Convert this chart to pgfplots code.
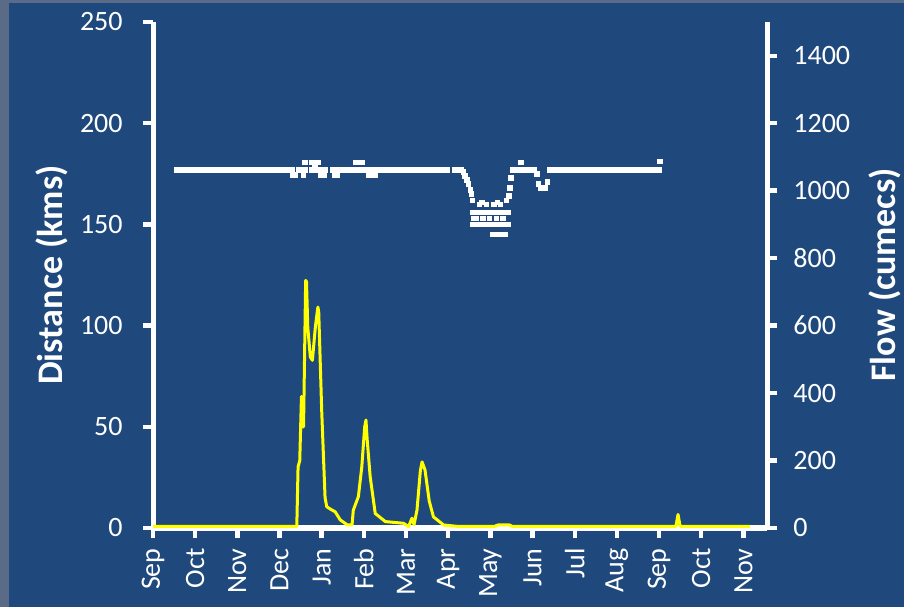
\documentclass[border=0pt]{standalone}
\usepackage{pgfplots}
\pgfplotsset{compat=1.18}
\usepackage{fontspec}
\setmainfont{Carlito}
\definecolor{bg}{HTML}{1F497D}
\definecolor{framec}{HTML}{5A6B88}
\definecolor{flowc}{HTML}{FFFF00}

\pgfplotsset{
  common/.style={
    at={(76.5bp,39.5bp)}, anchor=south west, scale only axis,
    width=307bp, height=253bp,
    xmin=0, xmax=14.56,
    axis line style={white, line width=2.5bp},
    every tick/.style={white, line width=2.2bp},
    major tick length=5bp, tick align=outside,
    tick label style={font=\fontsize{14bp}{16bp}\selectfont, text=white, inner sep=0pt},
    /pgf/number format/assume math mode=true,
    /pgf/number format/1000 sep={},
    every axis y label/.style={rotate=90, anchor=center, text=white,
      font=\fontsize{18bp}{21bp}\selectfont\bfseries},
  }
}

\begin{document}
\begin{tikzpicture}
\fill[framec] (0,0) rectangle (452bp,303.5bp);
\fill[bg] (4.5bp,0) rectangle (452bp,302bp);

\begin{axis}[common,
  ymin=0, ymax=250,
  axis x line*=bottom, axis y line*=left,
  ytick={0,50,...,250},
  yticklabel style={anchor=east}, yticklabel shift=10bp,
  xtick={0,...,14},
  xticklabels={Sep,Oct,Nov,Dec,Jan,Feb,Mar,Apr,May,Jun,Jul,Aug,Sep,Oct,Nov},
  xticklabel style={rotate=90, anchor=east}, xticklabel shift=5bp,
  ylabel={Distance (kms)},
  every axis y label/.append style={at={(axis description cs:-0.1645,0.5)}},
]
\addplot[white, only marks, mark=square*, mark size=1.1bp] table {
x y
0.57 177
0.65 177
0.73 177
0.81 177
0.89 177
0.97 177
1.05 177
1.13 177
1.21 177
1.29 177
1.37 177
1.45 177
1.53 177
1.61 177
1.69 177
1.77 177
1.85 177
1.93 177
2.01 177
2.09 177
2.17 177
2.25 177
2.33 177
2.41 177
2.49 177
2.57 177
2.65 177
2.73 177
2.81 177
2.89 177
2.97 177
3.09 177
3.21 177
3.29 177
3.45 177
3.53 177
3.61 177
3.77 177
3.85 177
3.93 177
4.01 177
4.09 177
4.25 177
4.33 177
4.41 177
3.30 174.4
3.38 174.4
3.56 174.4
3.98 174.4
4.06 174.4
4.30 174.4
4.37 174.4
3.60 180.7
3.76 180.7
3.84 180.7
3.92 180.7
3.84 178.8
4.52 177
4.60 177
4.68 177
4.76 177
4.84 177
4.92 177
5.00 177
5.08 177
5.16 177
5.24 177
5.32 177
5.40 177
4.80 180.6
4.88 180.6
4.96 180.6
5.12 174.4
5.20 174.4
5.28 174.4
5.55 177
5.67 177
5.78 177
5.88 177
5.96 177
6.04 177
6.12 177
6.20 177
6.28 177
6.36 177
6.44 177
6.52 177
6.60 177
6.68 177
6.76 177
6.80 177
6.90 177
6.97 177
7.14 177
7.22 177
7.30 177
7.36 176
7.40 174
7.44 172
7.48 170
7.52 167
7.55 165
7.58 162
7.58 156
7.58 150
7.60 153
7.64 156
7.72 156
7.80 156
7.88 156
7.96 156
8.04 156
8.12 156
8.20 156
8.28 156
8.36 156
8.42 156
7.62 150
7.70 150
7.78 150
7.86 150
7.94 150
8.02 150
8.10 150
8.18 150
8.26 150
8.34 150
8.42 150
7.66 153
7.82 153
7.98 153
8.14 153
8.30 153
7.74 160
7.80 161
7.90 160
8.08 160
8.16 161
8.24 160
8.38 162
8.44 164
8.06 145
8.14 145
8.26 145
8.34 145
8.46 168
8.49 173
8.52 177
8.56 177
8.64 177
8.72 177
8.80 177
8.88 177
8.96 177
9.04 177
9.10 175
8.72 180.5
9.14 170
9.18 168
9.24 168
9.30 168
9.35 171
9.40 177
9.45 177
9.53 177
9.61 177
9.69 177
9.77 177
9.85 177
9.93 177
10.01 177
10.09 177
10.17 177
10.25 177
10.33 177
10.41 177
10.49 177
10.57 177
10.65 177
10.73 177
10.81 177
10.89 177
10.97 177
11.05 177
11.13 177
11.21 177
11.29 177
11.37 177
11.45 177
11.53 177
11.61 177
11.69 177
11.77 177
11.85 177
11.93 177
12.00 177
12.02 181
};
\end{axis}

\begin{axis}[common,
  ymin=0, ymax=1500,
  axis x line=none, axis y line*=right,
  ytick={0,200,...,1400},
  yticklabel style={anchor=west}, yticklabel shift=8bp,
  ylabel={Flow (cumecs)},
  every axis y label/.append style={at={(axis description cs:1.192,0.5)}},
]
\addplot[flowc, line width=1.5bp, line join=round] table {
x y
0 5
3.41 5
3.44 181
3.48 200
3.52 390
3.53 300
3.57 300
3.62 734
3.64 730
3.67 596
3.73 507
3.78 497
3.85 596
3.91 655
3.93 640
4.00 349
4.08 90
4.12 63
4.22 55
4.32 48
4.44 24
4.61 9
4.72 9
4.75 53
4.87 93
4.95 180
5.02 300
5.05 320
5.08 260
5.15 152
5.27 43
5.51 19
5.94 14
6.06 4
6.14 29
6.19 10
6.26 53
6.34 170
6.38 196
6.45 172
6.55 80
6.65 33
6.89 9
7.21 5
8.10 5
8.18 9
8.45 9
8.52 5
12.40 5
12.45 40
12.50 5
14.16 5
};
\end{axis}
\pgfresetboundingbox
\useasboundingbox (0,0) rectangle (452bp,303.5bp);
\end{tikzpicture}
\end{document}
